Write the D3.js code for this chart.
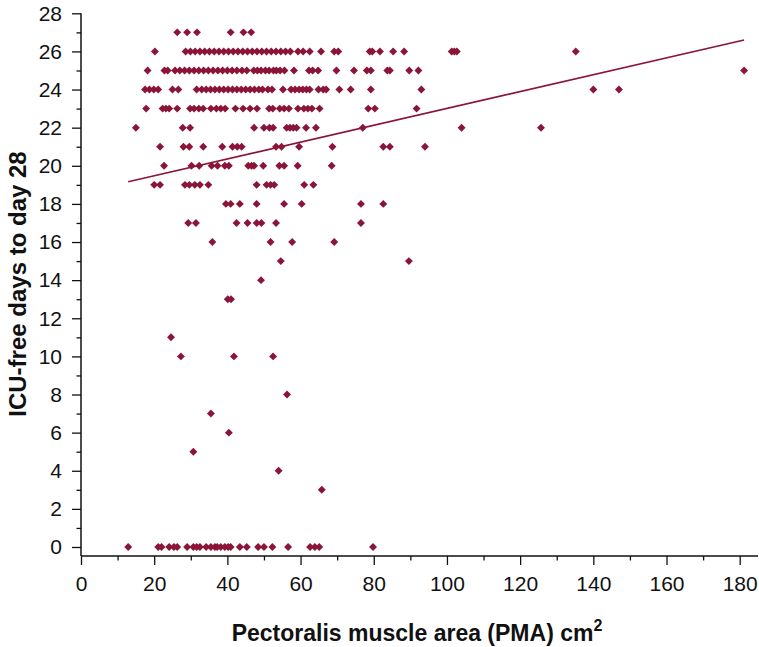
<!DOCTYPE html>
<html><head><meta charset="utf-8">
<script src="https://cdn.jsdelivr.net/npm/d3@7"></script>
<style>
body{margin:0;background:#fff}
svg text{font-family:"Liberation Sans",Arial,Helvetica,sans-serif;fill:#111}
</style></head><body>
<svg id="chart" width="759" height="647"></svg>
<script>
// ICU-free days (rows) and the PMA values (cm²) of the patients at each value
const pma27 = [26.3, 29.0, 31.7, 40.9, 44.4, 46.5];
const pma26 = [20.2, 28.6, 29.9, 31.2, 32.5, 33.8, 35.1, 36.4, 37.7, 39.0, 40.3, 41.6, 42.9, 44.2, 45.5, 46.8, 48.1, 49.4, 50.7, 52.0, 53.3, 54.6, 55.9, 57.2, 59.3, 60.7, 62.5, 65.6, 69.2, 70.3, 78.9, 79.6, 81.7, 85.3, 88.3, 101.3, 102.0, 102.7, 135.2];
const pma25 = [18.2, 22.8, 23.7, 25.7, 27.0, 28.3, 29.6, 30.9, 32.2, 33.5, 34.8, 36.1, 37.4, 38.7, 40.0, 41.3, 42.6, 44.0, 45.3, 47.2, 48.2, 49.2, 50.4, 51.4, 52.6, 53.4, 54.4, 55.6, 58.2, 62.3, 63.3, 64.8, 69.8, 74.6, 78.1, 79.2, 83.7, 84.4, 89.7, 92.2, 181.2];
const pma24 = [17.5, 18.7, 19.9, 21.1, 25.0, 26.6, 31.6, 33.0, 34.2, 35.4, 36.6, 37.8, 39.0, 40.2, 41.4, 42.6, 43.8, 45.0, 46.2, 47.4, 48.6, 49.6, 51.1, 52.2, 55.2, 57.4, 58.5, 59.6, 60.6, 61.6, 62.5, 64.9, 66.2, 67.0, 70.6, 73.7, 79.2, 93.0, 140.0, 147.0];
const pma23 = [17.8, 22.3, 23.2, 24.1, 26.3, 29.8, 30.9, 32.2, 33.4, 35.5, 37.0, 38.2, 39.4, 42.2, 44.3, 46.2, 48.1, 51.4, 52.4, 54.3, 55.5, 56.8, 59.3, 60.9, 62.0, 63.1, 65.2, 78.5, 80.3, 91.7];
const pma22 = [15.0, 27.8, 29.8, 47.3, 50.0, 51.5, 52.5, 56.2, 57.1, 58.0, 58.9, 61.5, 64.2, 77.0, 104.0, 125.7];
const pma21 = [21.6, 28.0, 29.6, 33.4, 38.6, 41.4, 42.7, 43.9, 53.3, 54.8, 59.6, 68.7, 82.6, 84.4, 94.0];
const pma20 = [22.7, 30.2, 32.3, 35.7, 37.3, 39.3, 40.4, 45.7, 46.6, 47.3, 49.8, 54.2, 55.5, 59.2, 68.5];
const pma19 = [20.0, 21.6, 28.4, 29.6, 31.1, 32.5, 34.8, 48.0, 50.7, 51.8, 52.8, 61.0, 63.5];
const pma18 = [39.6, 40.9, 43.4, 48.0, 55.5, 60.3, 76.5, 82.6];
const pma17 = [29.3, 31.4, 42.5, 45.5, 48.0, 49.3, 53.3, 76.5];
const pma16 = [35.9, 51.8, 57.7, 69.2];
const pma15 = [54.6, 89.6];
const pma14 = [49.2];
const pma13 = [40.1, 41.0];
const pma11 = [24.6];
const pma10 = [27.3, 41.8, 52.5];
const pma8 = [56.3];
const pma7 = [35.5];
const pma6 = [40.4];
const pma5 = [30.7];
const pma4 = [54.0];
const pma3 = [65.8];
const pma0 = [12.9, 21.1, 22.0, 24.1, 25.4, 26.3, 29.0, 30.7, 31.6, 32.5, 34.2, 35.5, 36.6, 37.2, 38.2, 39.3, 40.2, 40.9, 43.4, 45.3, 48.4, 50.0, 52.3, 56.6, 62.6, 63.9, 65.1, 79.8];

const rowDays = [27, 26, 25, 24, 23, 22, 21, 20, 19, 18, 17, 16, 15, 14, 13, 11, 10, 8, 7, 6, 5, 4, 3, 0];
const rowPma = [pma27, pma26, pma25, pma24, pma23, pma22, pma21, pma20, pma19, pma18, pma17, pma16, pma15, pma14, pma13, pma11, pma10, pma8, pma7, pma6, pma5, pma4, pma3, pma0];

// linear fit shown in the figure
const fitIntercept = 18.59;
const fitSlope = 0.0442;

const xMajorTicks = [0, 20, 40, 60, 80, 100, 120, 140, 160, 180];
const xMinorTicks = [10, 30, 50, 70, 90, 110, 130, 150, 170];
const yMajorTicks = [0, 2, 4, 6, 8, 10, 12, 14, 16, 18, 20, 22, 24, 26, 28];
const yMinorTicks = [1, 3, 5, 7, 9, 11, 13, 15, 17, 19, 21, 23, 25, 27];

const xTitle = "Pectoralis muscle area (PMA) cm";
const xTitleSup = "2";
const yTitle = "ICU-free days to day 28";

const points = [];
rowDays.forEach((d, i) => rowPma[i].forEach(p => points.push({pma: p, days: d})));

const color = "#8a1538";
const svg = d3.select("#chart");
const x = d3.scaleLinear().domain([0, 185]).range([81, 758]);
const y = d3.scaleLinear().domain([0, 28]).range([547, 13.3]);
const axisY0 = 556;

// X axis
const gx = svg.append("g").attr("transform", `translate(0,${axisY0})`);
gx.call(d3.axisBottom(x).tickValues(xMajorTicks).tickSize(9).tickSizeOuter(0).tickPadding(11).tickFormat(d3.format("d")));
gx.select(".domain").remove();
gx.append("g").call(d3.axisBottom(x).tickValues(xMinorTicks).tickSize(4.5).tickFormat("")).select(".domain").remove();
gx.append("line").attr("x1", x(0)).attr("x2", 758).attr("stroke", "#111").attr("stroke-width", 1.5);
gx.selectAll(".tick line").attr("stroke", "#111").attr("stroke-width", 1.3);
gx.selectAll(".tick text").attr("font-size", 21).attr("fill", "#111");

// Y axis
const gy = svg.append("g").attr("transform", `translate(${x(0)},0)`);
gy.call(d3.axisLeft(y).tickValues(yMajorTicks).tickSize(9).tickSizeOuter(0).tickPadding(10).tickFormat(d3.format("d")));
gy.select(".domain").remove();
gy.append("g").call(d3.axisLeft(y).tickValues(yMinorTicks).tickSize(4.5).tickFormat("")).select(".domain").remove();
gy.append("line").attr("y1", y(28)).attr("y2", axisY0).attr("stroke", "#111").attr("stroke-width", 1.5);
gy.selectAll(".tick line").attr("stroke", "#111").attr("stroke-width", 1.3);
gy.selectAll(".tick text").attr("font-size", 21).attr("fill", "#111");

// points (diamonds)
const sym = d3.symbol().type(d3.symbolDiamond2).size(40);
svg.append("g").selectAll("path").data(points).join("path")
  .attr("d", sym)
  .attr("transform", d => `translate(${x(d.pma)},${y(d.days)})`)
  .attr("fill", color);

// fit line
const xExt = d3.extent(points, d => d.pma);
svg.append("line")
  .attr("x1", x(xExt[0])).attr("y1", y(fitIntercept + fitSlope * xExt[0]))
  .attr("x2", x(xExt[1])).attr("y2", y(fitIntercept + fitSlope * xExt[1]))
  .attr("stroke", color).attr("stroke-width", 1.6);

// titles
const tx = svg.append("text").attr("x", 417).attr("y", 641).attr("text-anchor", "middle")
  .attr("font-size", 23).attr("font-weight", "bold").text(xTitle);
tx.append("tspan").attr("dy", -10).attr("font-size", 16).text(xTitleSup);

svg.append("text").attr("transform", "translate(26,284) rotate(-90)").attr("text-anchor", "middle")
  .attr("font-size", 24).attr("font-weight", "bold").text(yTitle);
</script></body></html>
